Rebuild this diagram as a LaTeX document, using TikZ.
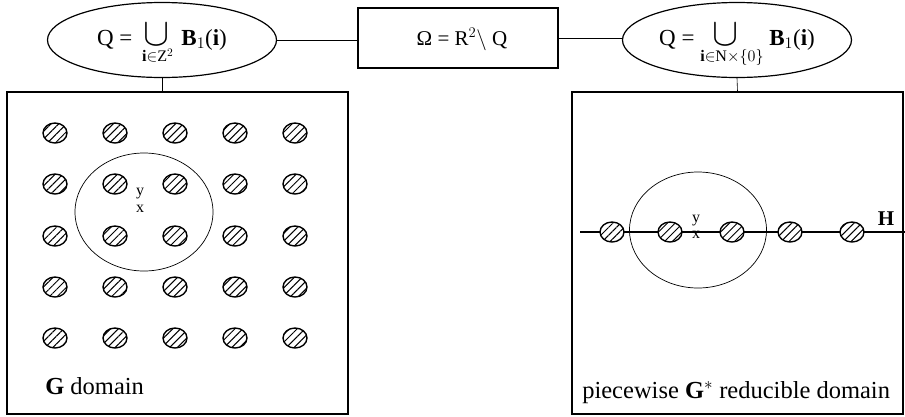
\documentclass[tikz,border=0pt]{standalone}
\usepackage{fix-cm}
\usepackage{amsmath}
\usepackage{graphicx}
\usepackage{fontspec}
\setmainfont{Liberation Serif}
\usetikzlibrary{shapes.geometric,patterns.meta,positioning}

\newcommand{\bigcupsym}{\mathop{\scalebox{1.7}{$\cup$}}}

\begin{document}
\begin{tikzpicture}[
    x = 1pt, y = -1pt, % one unit per pixel, y going down
    semithick, % line style
    every node/.style = {inner sep = 0pt}
    ]

    \tikzset{
    setnode/.style = {ellipse, draw, line width = 1.2pt, minimum width = 229pt,
        minimum height = 75pt, font = \fontsize{23}{26}\selectfont},
    domainbox/.style = {draw, line width = 1.4pt, minimum height = 322pt},
    blob/.style = {ellipse, draw, line width = 1.4pt, minimum width = 24pt,
        minimum height = 20pt, preaction = {fill = white},
        pattern = {Lines[angle = 45, distance = 5.5pt, line width = 1pt]}},
    ball/.style = {ellipse, draw, line width = 0.7pt},
    ptlabel/.style = {font = \fontsize{16}{18}\selectfont, anchor = base},
    caption/.style = {anchor = base west, font = \fontsize{24.5}{28}\selectfont}
    }
    \useasboundingbox (0,0) rectangle (905,416);

    % top row
    \node[setnode] (qz) at (162,40) {\raisebox{-5pt}[0pt][0pt]{Q = \hspace{4pt}%
        $\bigcupsym\limits_{\mathbf{i}\in \mathrm{Z}^2}$\hspace{8pt}\textbf{B}$_1$(\textbf{i})}};
    \node[draw, line width = 1.2pt, minimum width = 200pt, minimum height = 60pt,
        font = \fontsize{21}{24}\selectfont] (omega) at (458,38)
        {\raisebox{-7pt}[0pt][0pt]{\hspace{8pt}Ω = R$^2 \setminus$ Q}};
    \node[setnode] (qh) at (737,40) {\raisebox{-5pt}[0pt][0pt]{Q =
        $\bigcupsym\limits_{\mathbf{i}\in \mathrm{N}\times\{0\}}$ \textbf{B}$_1$(\textbf{i})}};

    % the two domains
    \node[domainbox, minimum width = 341pt] (gdom) at (177.5,253) {};
    \node[domainbox, minimum width = 331pt] (pdom) at (737.5,253) {};

    \draw (qz.east) -- (qz.east -| omega.west);
    \draw (omega.east) -- (omega.east -| qh.west);
    \draw (qz.south) -- (qz.south |- gdom.north);
    \draw (qh.south) -- (pdom.north);

    % G domain
    \node[ball, minimum width = 138pt, minimum height = 118pt] (nbhd) at (144,212) {};
    \foreach \c [count=\i] in {55,115,175,235,295}
        \foreach \r [count=\j] in {133,184,236,287,338}
            \node[blob] (g-\i-\j) at (\c,\r) {};
    \node[ptlabel] (gy) at (140,195) {y};
    \node[ptlabel] (gx) at (140,212) {x};
    \node[caption] (glab) at (45,394) {\textbf{G} domain};

    % piecewise reducible domain
    \coordinate (hl) at (580,232);
    \coordinate (hr) at (905,232);
    \draw[line width = 1.3pt] (hl) -- (hr);
    \node[ball, minimum width = 137pt, minimum height = 116pt] (nbhd2) at (698,230) {};
    \foreach \c [count=\i] in {612,670,732,790,852}
        \node[blob] (h-\i) at (\c,232) {};
    \node[ptlabel] (hy) at (696,222) {y};
    \node[ptlabel] (hx) at (696,238) {x};
    \node[anchor = base, font = \fontsize{21}{24}\selectfont\bfseries] (hlab)
        at (886,225) {H};
    \node[caption] (plab) at (582,398)
        {piecewise \textbf{G}$^*$ reducible domain};
\end{tikzpicture}
\end{document}
